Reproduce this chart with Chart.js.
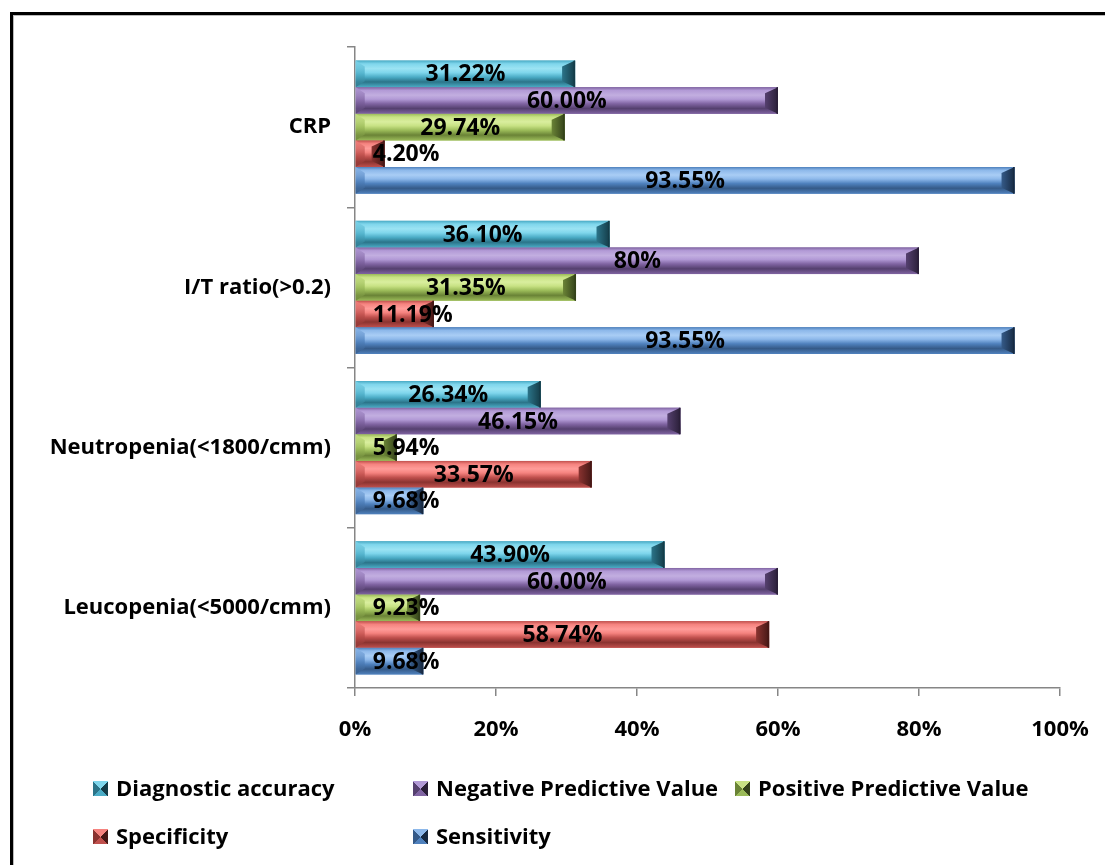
<!DOCTYPE html>
<html>
<head>
<meta charset="utf-8">
<script src="https://cdn.jsdelivr.net/npm/chart.js@4"></script>
<style>
  html,body{margin:0;padding:0;background:#fff;}
  #wrap{position:relative;width:1105px;height:865px;overflow:hidden;}
  #frame{position:absolute;left:10px;top:12px;width:1200px;height:900px;border-top:3px solid #000;border-left:3px solid #000;box-shadow:inset 1px 1px 0 #bbb;}
  #c{position:absolute;left:0;top:0;}
  .lg{position:absolute;font:700 22px "Open Sans", sans-serif;color:#000;white-space:nowrap;line-height:26px;}
  .mk{position:absolute;width:15px;height:15px;}
</style>
</head>
<body>
<div id="wrap">
  <div id="frame"></div>
  <canvas id="c" width="1105" height="865"></canvas>
  <div id="legend"></div>
</div>
<script>
const categories = ['CRP', 'I/T ratio(>0.2)', 'Neutropenia(<1800/cmm)', 'Leucopenia(<5000/cmm)'];
const seriesNames = ['Diagnostic accuracy', 'Negative Predictive Value', 'Positive Predictive Value', 'Specificity', 'Sensitivity'];
const diagnosticAccuracy = [31.22, 36.10, 26.34, 43.90];
const negativePredictive = [60.00, 80, 46.15, 60.00];
const positivePredictive = [29.74, 31.35, 5.94, 9.23];
const specificity = [4.20, 11.19, 33.57, 58.74];
const sensitivity = [93.55, 93.55, 9.68, 9.68];
const diagnosticAccuracyText = ['31.22%', '36.10%', '26.34%', '43.90%'];
const negativePredictiveText = ['60.00%', '80%', '46.15%', '60.00%'];
const positivePredictiveText = ['29.74%', '31.35%', '5.94%', '9.23%'];
const specificityText = ['4.20%', '11.19%', '33.57%', '58.74%'];
const sensitivityText = ['93.55%', '93.55%', '9.68%', '9.68%'];
const xTicks = [0, 20, 40, 60, 80, 100];

const palette = [
  {light:'#9be3f3', hi:'#7fd6ec', base:'#4bacc6', dark:'#2b7489', edge:'#143c48'},
  {light:'#c2aee0', hi:'#b29ad6', base:'#8064a2', dark:'#55406f', edge:'#2a1f38'},
  {light:'#d9ee9e', hi:'#c8e284', base:'#9bbb59', dark:'#6a8336', edge:'#34421a'},
  {light:'#ff9c99', hi:'#f5837f', base:'#c0504d', dark:'#8a3330', edge:'#461816'},
  {light:'#a9cdf5', hi:'#8db8ea', base:'#4f81bd', dark:'#355a88', edge:'#172a42'}
];
const values = [diagnosticAccuracy, negativePredictive, positivePredictive, specificity, sensitivity];
const texts = [diagnosticAccuracyText, negativePredictiveText, positivePredictiveText, specificityText, sensitivityText];

const FONT = '"Open Sans", sans-serif';

const bevelPlugin = {
  id: 'bevel',
  afterDatasetsDraw(chart) {
    const ctx = chart.ctx;
    chart.data.datasets.forEach((ds, di) => {
      const meta = chart.getDatasetMeta(di);
      const p = palette[di];
      meta.data.forEach((el) => {
        const {x, y, base, height} = el.getProps(['x','y','base','height'], true);
        const x0 = Math.min(base, x), x1 = Math.max(base, x);
        const y0 = y - height/2, y1 = y + height/2;
        const w = x1 - x0, h = height;
        const b = Math.min(9, w/2), bv = Math.min(6, h/3);
        ctx.save();
        const g = ctx.createLinearGradient(0, y0, 0, y1);
        g.addColorStop(0, p.base);
        g.addColorStop(0.12, p.hi);
        g.addColorStop(0.3, p.light);
        g.addColorStop(0.45, p.hi);
        g.addColorStop(0.62, p.base);
        g.addColorStop(0.8, p.dark);
        g.addColorStop(1, p.base);
        ctx.fillStyle = g;
        ctx.fillRect(x0, y0, w, h);
        ctx.beginPath();
        ctx.moveTo(x0, y0); ctx.lineTo(x0 + b, y0 + bv); ctx.lineTo(x0 + b, y1 - bv); ctx.lineTo(x0, y1); ctx.closePath();
        const gl = ctx.createLinearGradient(0, y0, 0, y1);
        gl.addColorStop(0, p.hi); gl.addColorStop(0.5, p.base); gl.addColorStop(1, p.dark);
        ctx.fillStyle = gl; ctx.globalAlpha = 0.8; ctx.fill(); ctx.globalAlpha = 1;
        ctx.beginPath();
        const rb = Math.min(13, w/2);
        ctx.moveTo(x1, y0); ctx.lineTo(x1 - rb, y0 + bv); ctx.lineTo(x1 - rb, y1 - bv); ctx.lineTo(x1, y1); ctx.closePath();
        const gr = ctx.createLinearGradient(x1 - rb, 0, x1, 0);
        gr.addColorStop(0, p.dark); gr.addColorStop(1, p.edge);
        ctx.fillStyle = gr; ctx.fill();
        ctx.fillStyle = p.edge;
        ctx.fillRect(x1 - 1.5, y0, 1.5, h);
        ctx.restore();
      });
    });
    ctx.save();
    ctx.font = '700 23px ' + FONT;
    ctx.fillStyle = '#000';
    ctx.textAlign = 'center';
    ctx.textBaseline = 'middle';
    chart.data.datasets.forEach((ds, di) => {
      const meta = chart.getDatasetMeta(di);
      meta.data.forEach((el, i) => {
        const {x, y, base} = el.getProps(['x','y','base'], true);
        const t = texts[di][i];
        const tw = ctx.measureText(t).width;
        const cx = Math.max((base + x)/2, base + 17 + tw/2);
        ctx.fillText(t, cx, y + 1);
      });
    });
    ctx.restore();
  }
};

const chart = new Chart(document.getElementById('c'), {
  type: 'bar',
  data: {
    labels: categories,
    datasets: seriesNames.map((n, i) => ({
      label: n,
      data: values[i],
      backgroundColor: palette[i].base,
      categoryPercentage: 0.83,
      barPercentage: 1.0
    }))
  },
  options: {
    indexAxis: 'y',
    responsive: false,
    animation: false,
    devicePixelRatio: 1,
    layout: {padding: {left: 0, right: 45, top: 47, bottom: 117}},
    plugins: {legend: {display: false}, tooltip: {enabled: false}},
    scales: {
      x: {
        min: 0, max: 100,
        afterBuildTicks: (s) => { s.ticks = xTicks.map(v => ({value: v})); },
        afterFit: (s) => { s.height = 60; s.paddingLeft = 0; s.paddingRight = 0; },
        grid: {drawOnChartArea: false, tickLength: 8, color: '#868686', lineWidth: 1.5},
        border: {color: '#868686', width: 1.5},
        ticks: {color: '#000', font: {family: FONT, size: 22, weight: '700'}, padding: 21, callback: (v) => v + '%'}
      },
      y: {
        afterFit: (s) => { s.width = 355; s.paddingTop = 0; s.paddingBottom = 0; },
        grid: {drawOnChartArea: false, tickLength: 8, color: '#868686', lineWidth: 1.5, offset: true},
        border: {color: '#868686', width: 1.5},
        ticks: {color: '#000', font: {family: FONT, size: 22, weight: '700'}, padding: 16}
      }
    }
  },
  plugins: [bevelPlugin]
});

const legendPos = [[93, 788], [413, 788], [735, 788], [93, 836], [413, 836]];
const lg = document.getElementById('legend');
seriesNames.forEach((n, i) => {
  const p = palette[i];
  const [lx, ly] = legendPos[i];
  const mk = document.createElement('div');
  mk.className = 'mk';
  mk.style.left = lx + 'px';
  mk.style.top = (ly - 7) + 'px';
  mk.style.background = `conic-gradient(from -45deg, ${p.hi} 0deg 90deg, ${p.edge} 90deg 180deg, ${p.base} 180deg 270deg, ${p.dark} 270deg 360deg)`;
  lg.appendChild(mk);
  const t = document.createElement('div');
  t.className = 'lg';
  t.textContent = n;
  t.style.left = (lx + 23) + 'px';
  t.style.top = (ly - 14) + 'px';
  lg.appendChild(t);
});
</script>
</body>
</html>
